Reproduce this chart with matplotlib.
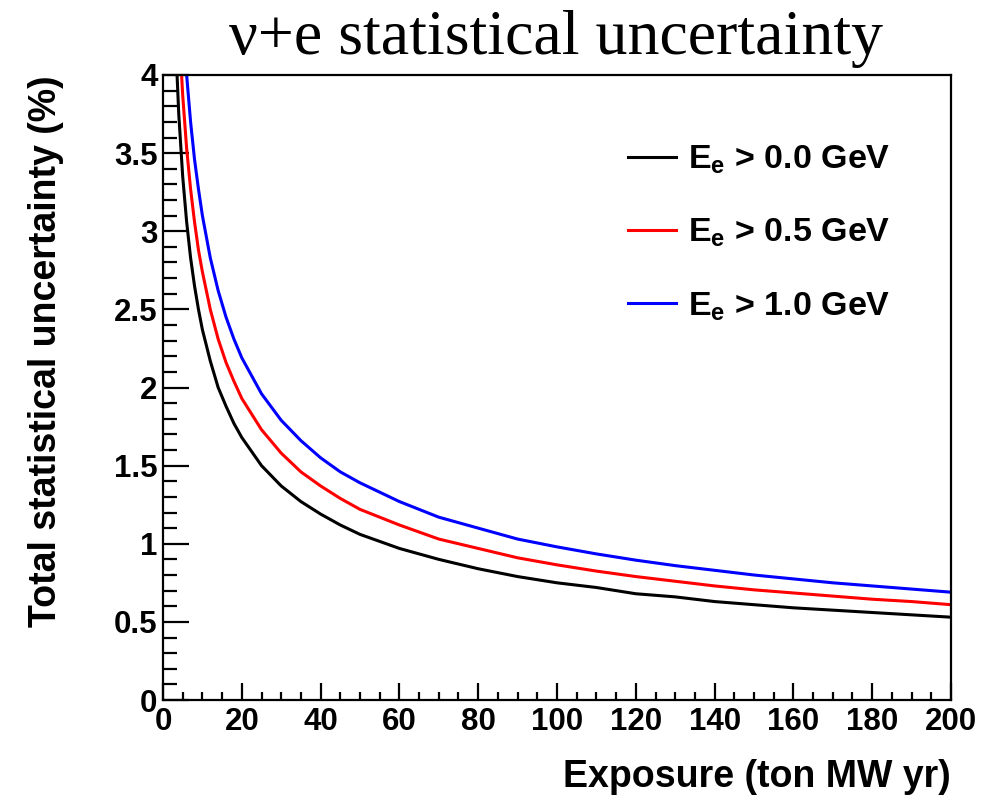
import matplotlib
matplotlib.use("Agg")
import matplotlib.pyplot as plt
from matplotlib.ticker import MultipleLocator

plt.rcParams['font.family'] = ['Liberation Sans', 'DejaVu Sans']
plt.rcParams['mathtext.fontset'] = 'custom'
plt.rcParams['mathtext.rm'] = 'Liberation Sans:bold'
plt.rcParams['mathtext.it'] = 'Liberation Sans:bold'
plt.rcParams['mathtext.bf'] = 'Liberation Sans:bold'
plt.rcParams['mathtext.default'] = 'regular'

exposure = [3, 4, 5, 6, 7, 8, 9, 10, 12, 14, 16, 18, 20, 25, 30, 35, 40, 45, 50,
            60, 70, 80, 90, 100, 110, 120, 130, 140, 150, 160, 170, 180, 190, 200]
unc_e00 = [4.33, 3.75, 3.35, 3.06, 2.83, 2.65, 2.50, 2.37, 2.17, 2.00, 1.88, 1.77, 1.68,
           1.50, 1.37, 1.27, 1.19, 1.12, 1.06, 0.97, 0.90, 0.84, 0.79, 0.75, 0.72, 0.68,
           0.66, 0.63, 0.61, 0.59, 0.575, 0.56, 0.545, 0.53]
unc_e05 = [4.99, 4.33, 3.87, 3.53, 3.27, 3.06, 2.88, 2.74, 2.50, 2.31, 2.16, 2.04, 1.93,
           1.73, 1.58, 1.46, 1.37, 1.29, 1.22, 1.12, 1.03, 0.97, 0.91, 0.865, 0.825, 0.79,
           0.76, 0.73, 0.705, 0.685, 0.665, 0.645, 0.63, 0.61]
unc_e10 = [5.66, 4.90, 4.38, 4.00, 3.70, 3.46, 3.27, 3.10, 2.83, 2.62, 2.45, 2.31, 2.19,
           1.96, 1.79, 1.66, 1.55, 1.46, 1.39, 1.27, 1.17, 1.10, 1.03, 0.98, 0.935, 0.895,
           0.86, 0.83, 0.80, 0.775, 0.75, 0.73, 0.71, 0.69]
labels = ["$E_e$ > 0.0 GeV", "$E_e$ > 0.5 GeV", "$E_e$ > 1.0 GeV"]
colors = ["#000000", "#ff0000", "#0000ff"]

fig = plt.figure(figsize=(9.91, 7.96), dpi=100)
ax = fig.add_axes([163/991, 1-700/796, (951-163)/991, (700-75)/796])

for ys, lab, c in zip([unc_e00, unc_e05, unc_e10], labels, colors):
    ax.plot(exposure, ys, color=c, lw=2.2, label=lab)

ax.set_xlim(0, 200)
ax.set_ylim(0, 4)
ax.xaxis.set_major_locator(MultipleLocator(20))
ax.xaxis.set_minor_locator(MultipleLocator(5))
ax.yaxis.set_major_locator(MultipleLocator(0.5))
ax.yaxis.set_minor_locator(MultipleLocator(0.1))
ax.set_yticks([0, 0.5, 1, 1.5, 2, 2.5, 3, 3.5, 4])
ax.set_yticklabels(["0", "0.5", "1", "1.5", "2", "2.5", "3", "3.5", "4"])
for s in ax.spines.values():
    s.set_linewidth(1.6)
ax.tick_params(which='both', direction='in', width=1.6, labelsize=22.5)
ax.tick_params(axis='x', which='major', length=12.5, pad=5)
ax.tick_params(axis='x', which='minor', length=6)
ax.tick_params(axis='y', which='major', length=19, pad=4)
ax.tick_params(axis='y', which='minor', length=10)
for t in ax.get_xticklabels() + ax.get_yticklabels():
    t.set_fontweight('bold')

ax.set_xlabel("Exposure (ton MW yr)", fontsize=27, fontweight='bold', loc='right', labelpad=16)
ax.set_ylabel("Total statistical uncertainty (%)", fontsize=27, fontweight='bold', loc='top', labelpad=36)

fig.text(556/991, 1-39/796, "ν+e statistical uncertainty", family=['Liberation Serif', 'DejaVu Serif'],
         fontsize=46, ha='center', va='center')

leg = ax.legend(loc='upper left', bbox_to_anchor=(0.551, 0.939), frameon=False, fontsize=24.5,
                handlelength=1.41, handletextpad=0.35, labelspacing=1.2)
for t in leg.get_texts():
    t.set_fontweight('bold')

fig.savefig("out.png", dpi=100)
